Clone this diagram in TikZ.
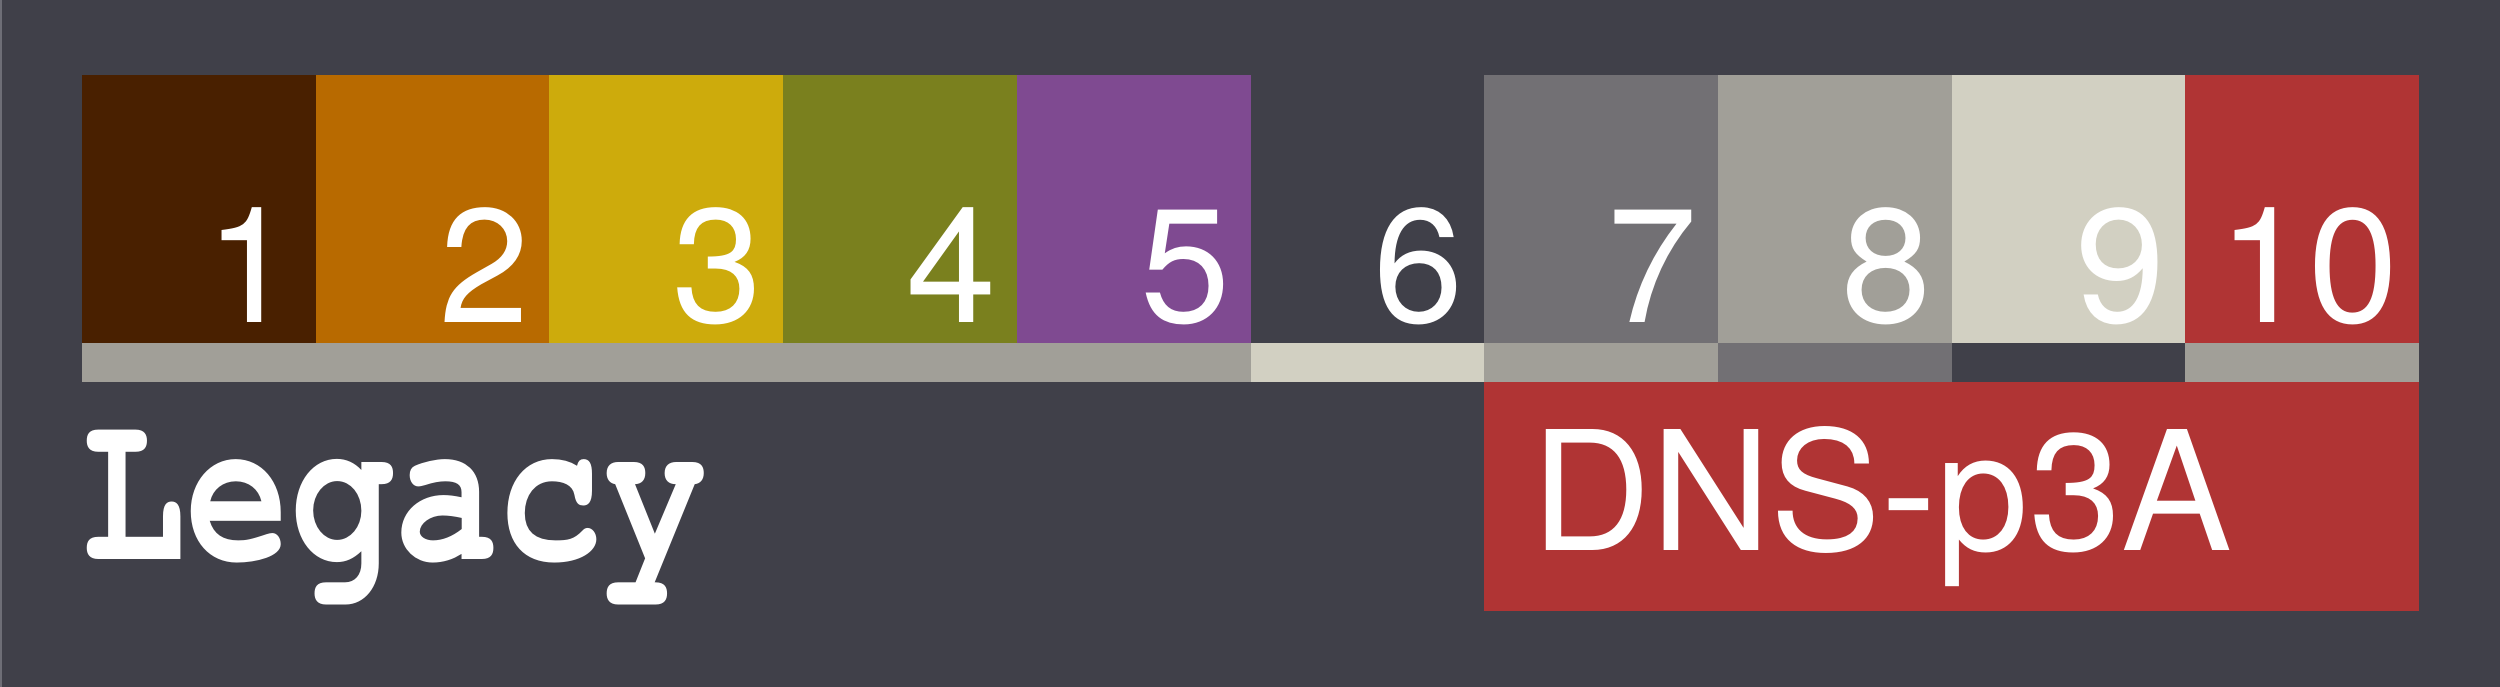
\documentclass[tikz,border=0pt]{standalone}
\usepackage{fontspec}
\newfontfamily\digitfont{TeX Gyre Heros}
\newfontfamily\legfont{texgyrecursor-bold.otf}
\definecolor{bgc}{RGB}{64,64,73}
\definecolor{edgec}{RGB}{110,110,118}
\definecolor{c1}{RGB}{73,32,0}
\definecolor{c2}{RGB}{184,106,0}
\definecolor{c3}{RGB}{205,171,12}
\definecolor{c4}{RGB}{122,128,30}
\definecolor{c5}{RGB}{127,74,145}
\definecolor{c7}{RGB}{114,112,116}
\definecolor{c8}{RGB}{161,159,152}
\definecolor{c9}{RGB}{210,208,194}
\definecolor{c10}{RGB}{176,52,52}
\tikzset{
  numlabel/.style={anchor=base east, inner sep=0pt, text=white,
    font=\digitfont\fontsize{162}{162}\selectfont},
  biglabel/.style={anchor=base west, inner sep=0pt, text=white},
}
\begin{document}
\begin{tikzpicture}[x=1pt,y=-1pt]
\useasboundingbox (0,0) rectangle (2500,687);
\fill[bgc] (0,0) rectangle (2500,687);
\fill[edgec] (0,0) rectangle (1.5,687);
% top coloured cells
\foreach \i/\c in {1/c1,2/c2,3/c3,4/c4,5/c5,6/bgc,7/c7,8/c8,9/c9,10/c10}{
  \pgfmathsetmacro{\xl}{82+233.7*(\i-1)}
  \pgfmathsetmacro{\xr}{82+233.7*\i}
  \fill[\c] (\xl,75) rectangle (\xr,343.5);
  \node[numlabel] (n\i) at (\xr-20,322) {\i};
}
% lower bar
\fill[c8] (82,343) rectangle (1250.5,382);
\fill[c9] (1250.5,343) rectangle (1484.2,382);
\fill[c8] (1484.2,343) rectangle (1717.9,382);
\fill[c7] (1717.9,343) rectangle (1951.6,382);
\fill[bgc] (1951.6,343) rectangle (2185.3,382);
\fill[c8] (2185.3,343) rectangle (2419,382);
% DNS-p3A box
\fill[c10] (1484.2,382) rectangle (2419,611);
\node[biglabel, font=\digitfont\fontsize{166}{166}\selectfont] (dns) at (1531,550) {DNS-p3A};
\node[biglabel, font=\legfont\fontsize{222}{222}\selectfont] (legacy) at (81,559) {\scalebox{0.784}[1]{Legacy}};
\end{tikzpicture}
\end{document}
